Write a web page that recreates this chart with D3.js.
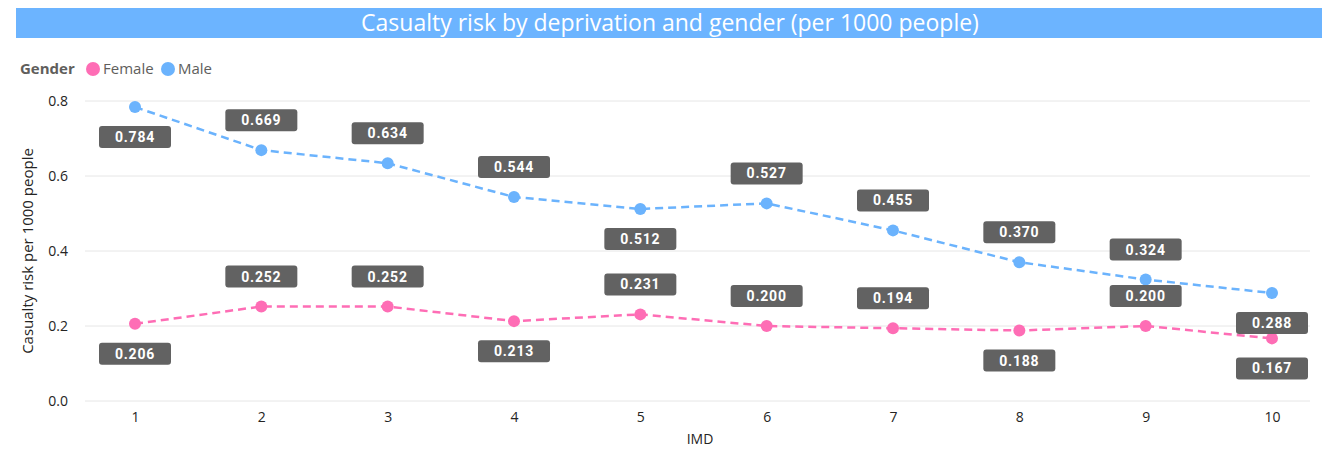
<!DOCTYPE html>
<html>
<head>
<meta charset="utf-8">
<script src="https://cdn.jsdelivr.net/npm/d3@7"></script>
<style>
  body { margin: 0; background: #fff; }
  svg { display: block; font-family: "Open Sans", sans-serif; }
</style>
</head>
<body>
<div id="chart"></div>
<script>
// Chart data
const imd = [1, 2, 3, 4, 5, 6, 7, 8, 9, 10];
const femaleRisk = [0.206, 0.252, 0.252, 0.213, 0.231, 0.200, 0.194, 0.188, 0.200, 0.167];
const maleRisk = [0.784, 0.669, 0.634, 0.544, 0.512, 0.527, 0.455, 0.370, 0.324, 0.288];
// where each data label sits relative to its point
const femaleLabelSide = ["below", "above", "above", "below", "above", "above", "above", "below", "above", "below"];
const maleLabelSide = ["below", "above", "above", "above", "below", "above", "above", "above", "above", "below"];
const yTicks = [0, 0.2, 0.4, 0.6, 0.8];

const width = 1325,
      height = 449;

const svg = d3.select("#chart").append("svg")
    .attr("width", width)
    .attr("height", height);

// Title bar
svg.append("rect")
    .attr("x", 16).attr("y", 8)
    .attr("width", 1306).attr("height", 30)
    .style("fill", "#6cb4ff");
svg.append("text")
    .attr("x", 670).attr("y", 31)
    .attr("text-anchor", "middle")
    .style("fill", "#fff")
    .style("font-size", "23px")
    .text("Casualty risk by deprivation and gender (per 1000 people)");

// Scales
const x = d3.scalePoint()
    .domain(imd)
    .range([135, 1272]);

const y = d3.scaleLinear()
    .domain([0, 0.8])
    .range([401, 101]);

const gridLeft = 85, gridRight = 1310;

// Gridlines
svg.append("g")
    .selectAll("line")
    .data(yTicks)
    .enter().append("line")
    .attr("x1", gridLeft).attr("x2", gridRight)
    .attr("y1", d => y(d)).attr("y2", d => y(d))
    .style("stroke", "#e6e6e6")
    .style("stroke-width", 1);

// Y axis
const yAxis = svg.append("g")
    .attr("transform", `translate(${gridLeft - 14},0)`)
    .call(d3.axisLeft(y).tickValues(yTicks).tickFormat(d3.format(".1f")).tickSize(0));
yAxis.select(".domain").remove();
yAxis.selectAll("text")
    .style("font-family", "'Open Sans', sans-serif")
    .style("font-size", "14px")
    .style("fill", "#252423");

// X axis
const xAxis = svg.append("g")
    .attr("transform", `translate(0,${y(0) + 8})`)
    .call(d3.axisBottom(x).tickSize(0));
xAxis.select(".domain").remove();
xAxis.selectAll("text")
    .style("font-family", "'Open Sans', sans-serif")
    .style("font-size", "14px")
    .style("fill", "#252423");

// Axis titles
svg.append("text")
    .attr("transform", "translate(33,251) rotate(-90)")
    .attr("text-anchor", "middle")
    .style("font-size", "15px")
    .style("fill", "#252423")
    .text("Casualty risk per 1000 people");
svg.append("text")
    .attr("x", 700).attr("y", 444)
    .attr("text-anchor", "middle")
    .style("font-size", "14px")
    .style("fill", "#252423")
    .text("IMD");

// Legend
const legend = svg.append("g").attr("class", "legend");
legend.append("text")
    .attr("x", 20).attr("y", 74)
    .style("font-size", "15px")
    .style("font-weight", "bold")
    .style("fill", "#605e5c")
    .text("Gender");
const legendItems = [
    { name: "Female", color: "#fe6db5", cx: 93 },
    { name: "Male", color: "#6bb3fd", cx: 168 }
];
legendItems.forEach(d => {
    legend.append("circle")
        .attr("cx", d.cx).attr("cy", 69).attr("r", 7)
        .style("fill", d.color);
    legend.append("text")
        .attr("x", d.cx + 10).attr("y", 74)
        .style("font-size", "15px")
        .style("fill", "#605e5c")
        .text(d.name);
});

// Series
const series = [
    { values: femaleRisk, sides: femaleLabelSide, color: "#fe6db5" },
    { values: maleRisk, sides: maleLabelSide, color: "#6bb3fd" }
];

const line = d3.line()
    .x((d, i) => x(imd[i]))
    .y(d => y(d));

series.forEach(s => {
    svg.append("path")
        .datum(s.values)
        .attr("d", line)
        .style("fill", "none")
        .style("stroke", s.color)
        .style("stroke-width", 2.5)
        .style("stroke-dasharray", "8,5");
    svg.append("g")
        .selectAll("circle")
        .data(s.values)
        .enter().append("circle")
        .attr("cx", (d, i) => x(imd[i]))
        .attr("cy", d => y(d))
        .attr("r", 6)
        .style("fill", s.color);
});

// Data labels on top
const labelW = 72, labelH = 22, labelOffset = 30;
series.forEach(s => {
    const g = svg.append("g")
        .selectAll("g")
        .data(s.values)
        .enter().append("g")
        .attr("transform", (d, i) => {
            const cy = y(d) + (s.sides[i] === "above" ? -labelOffset : labelOffset);
            return `translate(${x(imd[i])},${cy})`;
        });
    g.append("rect")
        .attr("x", -labelW / 2).attr("y", -labelH / 2)
        .attr("width", labelW).attr("height", labelH)
        .attr("rx", 3)
        .style("fill", "#626262");
    g.append("text")
        .attr("text-anchor", "middle")
        .attr("dy", "0.36em")
        .style("font-family", "Roboto, sans-serif")
        .style("font-weight", "bold")
        .style("font-size", "14px")
        .style("letter-spacing", "0.8px")
        .style("fill", "#fff")
        .text(d => d3.format(".3f")(d));
});
</script>
</body>
</html>
